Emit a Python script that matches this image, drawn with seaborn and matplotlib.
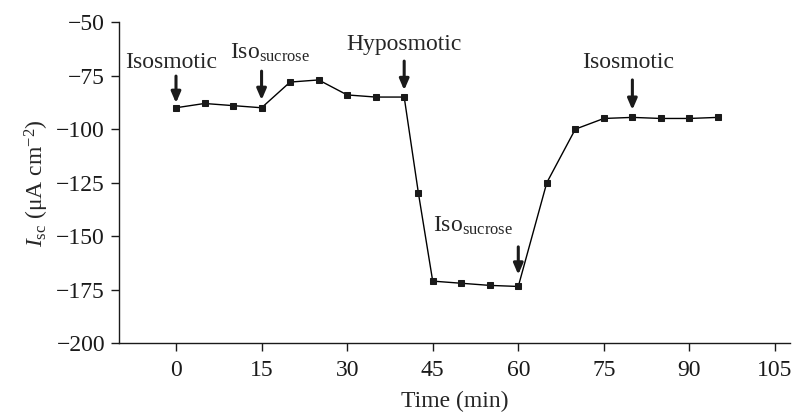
import numpy as np
import pandas as pd
import matplotlib
matplotlib.use("Agg")
import matplotlib.pyplot as plt
import seaborn as sns

# Isc trace over time
time_min = [0, 5, 10, 15, 20, 25, 30, 35, 40, 42.5, 45, 50, 55, 60,
            65, 70, 75, 80, 85, 90, 95]
isc = [-90, -88, -89, -90, -78, -77, -84, -85, -85, -130, -171, -172, -173, -173.5,
       -125, -100, -95, -94.5, -95, -95, -94.5]

# treatment labels and the time they were applied
labels = ["Isosmotic", r"Iso$_{\mathrm{sucrose}}$", "Hyposmotic",
          r"Iso$_{\mathrm{sucrose}}$", "Isosmotic"]
label_times = [0, 15, 40, 60, 80]

x_ticks = [0, 15, 30, 45, 60, 75, 90, 105]
y_ticks = [-50, -75, -100, -125, -150, -175, -200]


def main():
    sns.set_style("ticks")
    plt.rcParams["font.family"] = ["Liberation Serif", "DejaVu Serif"]
    plt.rcParams["mathtext.fontset"] = "custom"
    plt.rcParams["mathtext.rm"] = "Liberation Serif"
    plt.rcParams["mathtext.it"] = "Liberation Serif:italic"
    plt.rcParams["axes.unicode_minus"] = True

    df = pd.DataFrame({"time": time_min, "isc": isc})

    fig = plt.figure(figsize=(7.93, 4.18), dpi=100)
    ax = fig.add_axes([0.150, 0.179, 0.846, 0.768])

    sns.lineplot(data=df, x="time", y="isc", ax=ax, color="black",
                 linewidth=1.0, marker="s", markersize=5,
                 markeredgecolor="#1a1a1a", markerfacecolor="#1a1a1a")

    # arrows + text (text placed above the arrow tail, in data units)
    text_x = [-0.9, 16.5, 40, 52.0, 79.2]
    text_y = [-71.5, -67.3, -63, -148, -71.5]
    tail_y = [-75.2, -72.9, -68.2, -155, -77]
    tip_y = [-87.8, -86.4, -81.8, -168, -91]
    for lab, t, tx, ty, tl, tp in zip(labels, label_times, text_x, text_y, tail_y, tip_y):
        ax.annotate("", xy=(t, tp), xytext=(t, tl),
                    arrowprops=dict(arrowstyle="-|>,head_length=0.65,head_width=0.28",
                                    color="#1a1a1a", lw=2.2, shrinkA=0, shrinkB=0))
        ax.text(tx, ty, lab, ha="center", va="baseline", fontsize=17)

    ax.set_xlim(-10, 107.6)
    ax.set_ylim(-200, -50)
    ax.set_xticks(x_ticks)
    ax.set_yticks(y_ticks)
    ax.tick_params(direction="out", length=6, width=1, pad=4,
                   labelsize=17, colors="#1a1a1a")
    ax.tick_params(axis="x", pad=6)
    for side in ["left", "bottom"]:
        ax.spines[side].set_linewidth(1)
        ax.spines[side].set_color("#1a1a1a")
    sns.despine(ax=ax)

    ax.set_xlabel("Time (min)", fontsize=17, labelpad=7)
    ax.set_ylabel(r"$I_{\mathrm{sc}}$ (μA cm$^{-2}$)", fontsize=17, labelpad=4)

    plt.savefig("out.png", dpi=100)


if __name__ == "__main__":
    main()
